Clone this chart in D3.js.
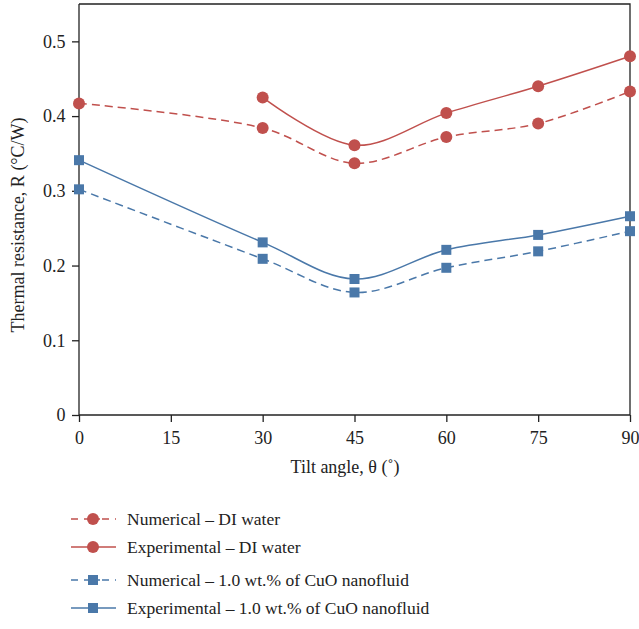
<!DOCTYPE html>
<html><head><meta charset="utf-8">
<script src="https://cdn.jsdelivr.net/npm/d3@7"></script>
<style>body{margin:0;background:#fff}svg{display:block}</style>
</head><body>
<script>
const angles = [0, 30, 45, 60, 75, 90];
const numWater = [0.417, 0.384, 0.337, 0.372, 0.390, 0.433];
const expWaterAngles = [30, 45, 60, 75, 90];
const expWater = [0.425, 0.361, 0.404, 0.440, 0.480];
const numCuO = [0.302, 0.209, 0.164, 0.197, 0.219, 0.246];
const expCuO = [0.341, 0.231, 0.182, 0.221, 0.241, 0.266];
const xTicks = [0, 15, 30, 45, 60, 75, 90];
const yTicks = [0, 0.1, 0.2, 0.3, 0.4, 0.5];
const seriesNames = ["Numerical – DI water", "Experimental – DI water", "Numerical – 1.0 wt.% of CuO nanofluid", "Experimental – 1.0 wt.% of CuO nanofluid"];

const red = "#c0504d", blue = "#4a78a9";
const series = [
  {name: seriesNames[0], xs: angles, ys: numWater, color: red, dash: "8,5", marker: "circle"},
  {name: seriesNames[1], xs: expWaterAngles, ys: expWater, color: red, dash: null, marker: "circle"},
  {name: seriesNames[2], xs: angles, ys: numCuO, color: blue, dash: "8,5", marker: "square"},
  {name: seriesNames[3], xs: angles, ys: expCuO, color: blue, dash: null, marker: "square"}
];

const W = 639, H = 629;
const svg = d3.select("body").append("svg").attr("width", W).attr("height", H);
const font = "'Liberation Serif', 'DejaVu Serif', serif";
const x = d3.scaleLinear().domain([0, 90]).range([79, 630]);
const y = d3.scaleLinear().domain([0, 0.55]).range([415, 4]);

// frame top/right
svg.append("path").attr("d", `M${x(0)},${y(0.55)}H${x(90)}V${y(0)}`).attr("fill", "none").attr("stroke", "#222").attr("stroke-width", 1.3);

const xa = svg.append("g").attr("transform", `translate(0,${y(0)})`)
  .call(d3.axisBottom(x).tickValues(xTicks).tickFormat(d3.format("d")).tickSizeOuter(0).tickSize(7));
const ya = svg.append("g").attr("transform", `translate(${x(0)},0)`)
  .call(d3.axisLeft(y).tickValues(yTicks).tickFormat(d => d === 0 ? "0" : d3.format(".1f")(d)).tickSizeOuter(0).tickSize(7));
[xa, ya].forEach(a => {
  a.selectAll("path,line").attr("stroke", "#222").attr("stroke-width", 1.3);
  a.selectAll("text").attr("font-family", font).attr("font-size", 18).attr("fill", "#222");
});
xa.select(".domain").attr("d", `M${x(0)},0H${x(90)}`);
ya.select(".domain").attr("d", `M0,${y(0)}V${y(0.55)}`);
xa.selectAll("text").attr("dy", "1.05em");
ya.selectAll("text").attr("dx", "-0.2em");

svg.append("text").attr("x", 345).attr("y", 473).attr("text-anchor", "middle")
  .attr("font-family", font).attr("font-size", 18).attr("fill", "#222")
  .text("Tilt angle, θ (˚)");
svg.append("text").attr("transform", "translate(24,225) rotate(-90)").attr("text-anchor", "middle")
  .attr("font-family", font).attr("font-size", 18).attr("fill", "#222")
  .text("Thermal resistance, R (°C/W)");

const line = d3.line().x(d => x(d[0])).y(d => y(d[1])).curve(d3.curveCatmullRom.alpha(0.5));

function marker(g, cx, cy, type, color) {
  if (type === "circle") g.append("circle").attr("cx", cx).attr("cy", cy).attr("r", 6).attr("fill", color);
  else g.append("rect").attr("x", cx - 5).attr("y", cy - 5).attr("width", 10).attr("height", 10).attr("fill", color);
}

series.forEach(s => {
  const pts = s.xs.map((a, i) => [a, s.ys[i]]);
  svg.append("path").attr("d", line(pts)).attr("fill", "none").attr("stroke", s.color)
    .attr("stroke-width", 1.5).attr("stroke-dasharray", s.dash);
  const g = svg.append("g");
  pts.forEach(p => marker(g, x(p[0]), y(p[1]), s.marker, s.color));
});

// legend
const legY = [519, 547, 580, 608];
series.forEach((s, i) => {
  const g = svg.append("g");
  const yy = legY[i];
  if (s.dash) {
    g.append("line").attr("x1", 71).attr("x2", 116).attr("y1", yy).attr("y2", yy)
      .attr("stroke", s.color).attr("stroke-width", 1.3).attr("stroke-dasharray", "7,6,7,6,3,2");
  } else {
    g.append("line").attr("x1", 71).attr("x2", 116).attr("y1", yy).attr("y2", yy)
      .attr("stroke", s.color).attr("stroke-width", 1.5);
  }
  marker(g, 93, yy, s.marker, s.color);
  g.append("text").attr("x", 127).attr("y", yy + 6).attr("font-family", font).attr("font-size", 17.5)
    .attr("fill", "#222").text(s.name);
});
</script>
</body></html>
